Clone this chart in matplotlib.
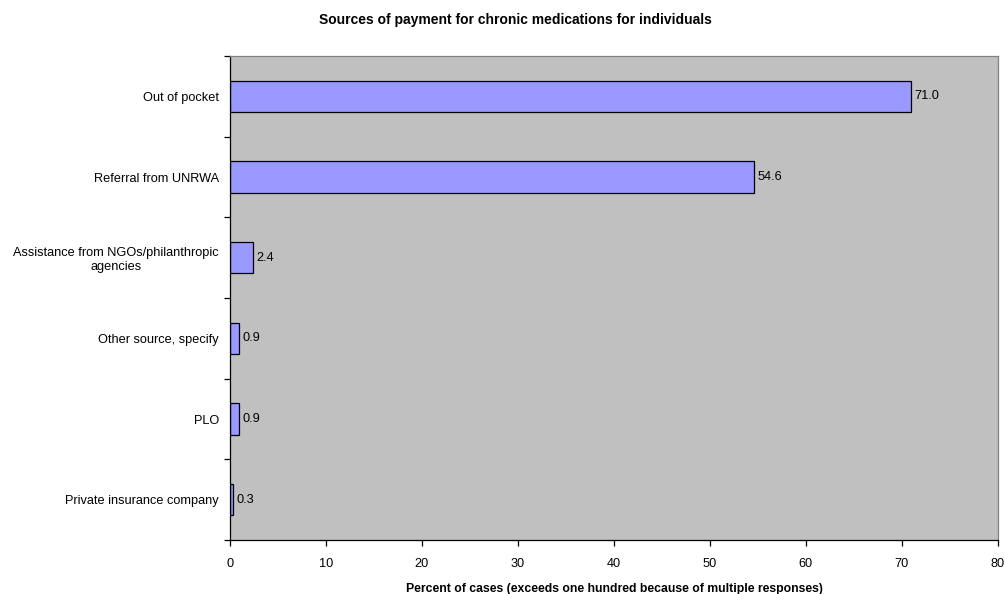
import matplotlib
matplotlib.use("Agg")
import matplotlib.pyplot as plt

plt.rcParams["font.family"] = ["Liberation Sans", "DejaVu Sans"]

categories = [
    "Out of pocket",
    "Referral from UNRWA",
    "Assistance from NGOs/philanthropic\nagencies",
    "Other source, specify",
    "PLO",
    "Private insurance company",
]
values = [71.0, 54.6, 2.4, 0.9, 0.9, 0.3]
x_ticks = [0, 10, 20, 30, 40, 50, 60, 70, 80]

fig = plt.figure(figsize=(10.05, 5.94), dpi=100)
ax = fig.add_axes([0.2289, 0.0909, 0.764, 0.8148])
ax.set_facecolor("#C0C0C0")

pos = list(range(len(categories)))
ax.barh(pos, values, height=0.39, color="#9999FF", edgecolor="black", linewidth=0.9)
for p, v in zip(pos, values):
    ax.text(v + 0.35, p, f"{v:.1f}", va="center", ha="left", fontsize=9.2)

ax.set_ylim(len(categories) - 0.5, -0.5)
ax.set_xlim(0, 80)
ax.set_xticks(x_ticks)
ax.set_yticks(pos)
ax.set_yticklabels(categories, fontsize=9.2, ha="right", multialignment="center")
ax.tick_params(axis="y", length=0, pad=8)
ax.set_yticks([i - 0.5 for i in range(len(categories) + 1)], minor=True)
ax.tick_params(axis="y", which="minor", length=4, width=0.9, direction="out")
ax.tick_params(axis="x", length=4, width=0.9, direction="out", labelsize=9.2, pad=9)

for side in ["top", "right"]:
    ax.spines[side].set_color("#808080")
    ax.spines[side].set_linewidth(0.9)
for side in ["left", "bottom"]:
    ax.spines[side].set_color("black")
    ax.spines[side].set_linewidth(0.9)

ax.set_xlabel("Percent of cases (exceeds one hundred because of multiple responses)",
              fontsize=8.8, fontweight="bold", labelpad=9)
fig.text(0.513, 0.967, "Sources of payment for chronic medications for individuals",
         ha="center", va="center", fontsize=10, fontweight="bold")

fig.savefig("out.png", dpi=100)
